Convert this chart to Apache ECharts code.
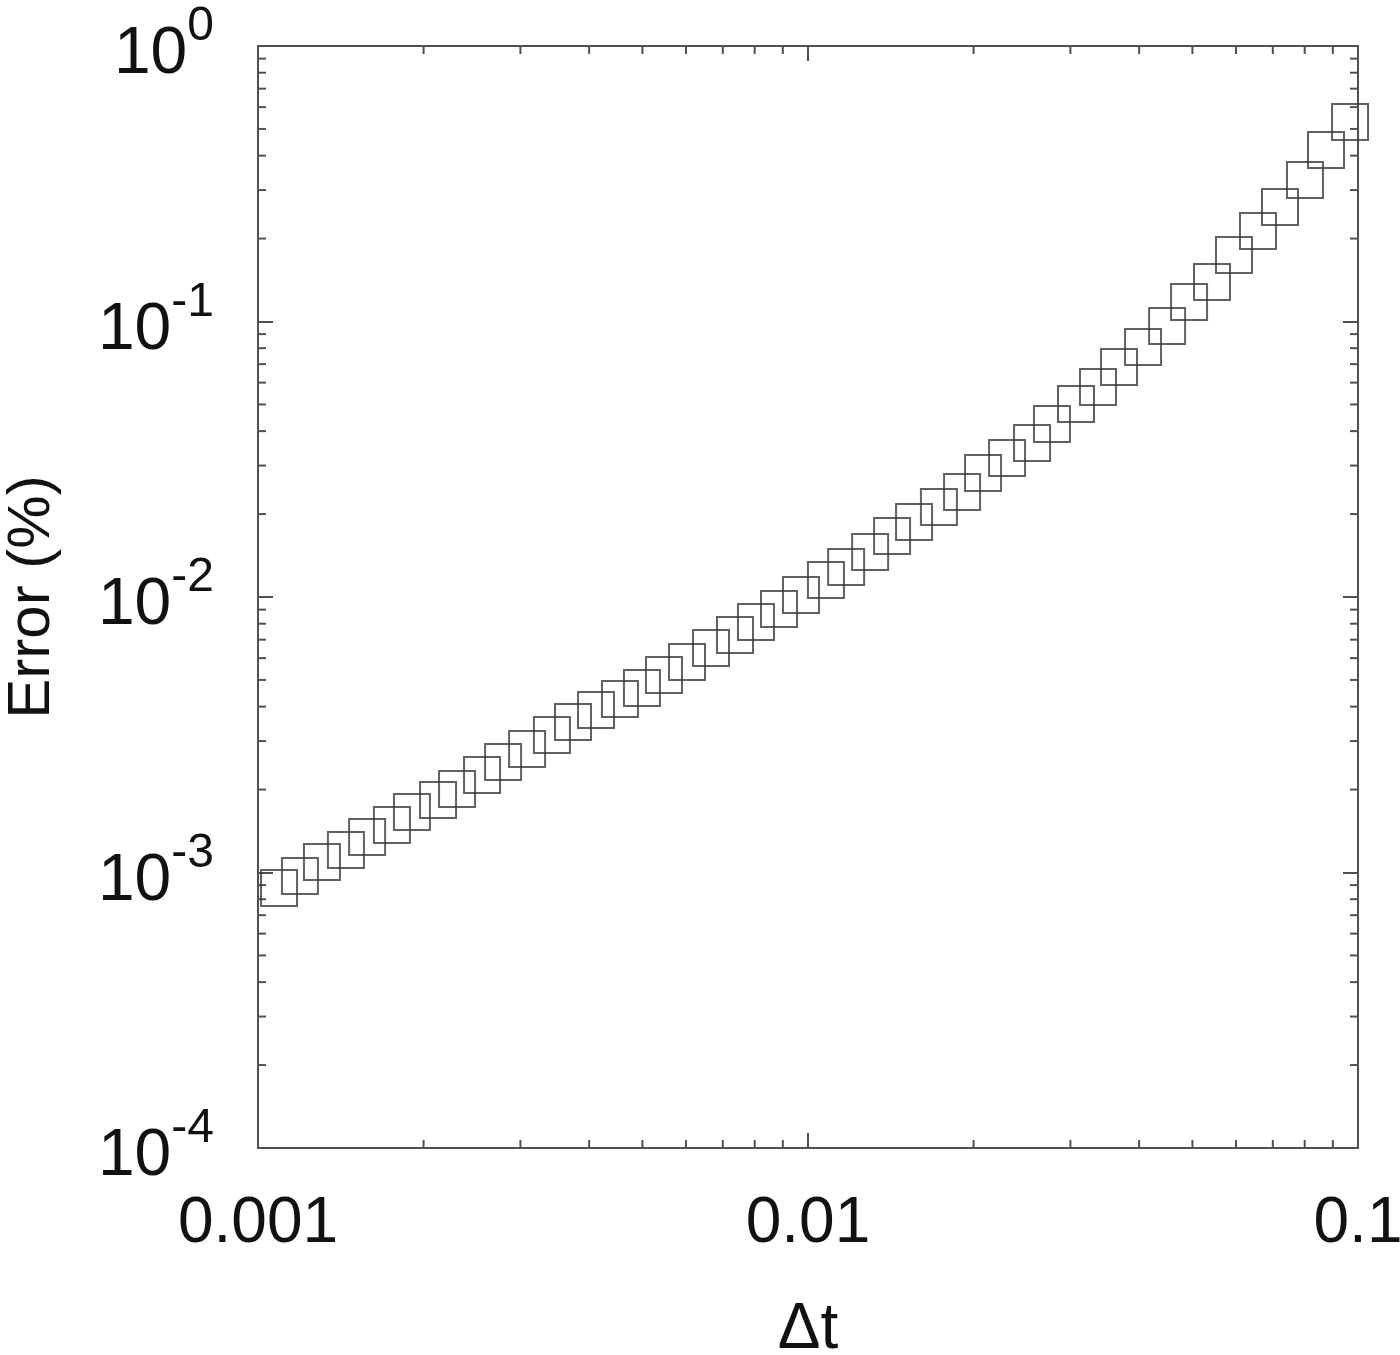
<!DOCTYPE html>
<html>
<head>
<meta charset="utf-8">
<script src="https://cdn.jsdelivr.net/npm/echarts@6/dist/echarts.min.js"></script>
<style>
  html, body { margin: 0; padding: 0; background: #fff; }
  #chart { width: 1400px; height: 1355px; }
</style>
</head>
<body>
<div id="chart"></div>
<script>
// time step values
var dtValues = [
    0.001092, 0.001192, 0.001307, 0.001445, 0.001579, 0.001752, 0.001905, 0.002125,
    0.002301, 0.002555, 0.002790, 0.003085, 0.003423, 0.003739, 0.004117, 0.004551,
    0.004990, 0.005472, 0.006026, 0.006663, 0.007366, 0.008043, 0.008857, 0.009712,
    0.01078, 0.01173, 0.01297, 0.01422, 0.01559, 0.01730, 0.01906, 0.02081,
    0.02301, 0.02555, 0.02777, 0.03071, 0.03367, 0.03677, 0.04066, 0.04497,
    0.04930, 0.05427, 0.05950, 0.06579, 0.07214, 0.08009, 0.08746, 0.09672
];
// error (%) for each time step
var errValues = [
    0.000878, 0.000971, 0.001092, 0.001207, 0.001346, 0.001488, 0.001658, 0.001833,
    0.002009, 0.002259, 0.002518, 0.002808, 0.003156, 0.003518, 0.003889, 0.004264,
    0.004673, 0.005210, 0.005808, 0.006531, 0.007279, 0.008114, 0.009046, 0.01017,
    0.01153, 0.01285, 0.01457, 0.01664, 0.01872, 0.02121, 0.02405, 0.02818,
    0.03195, 0.03622, 0.04246, 0.05018, 0.05783, 0.06836, 0.08080, 0.09631,
    0.1177, 0.1391, 0.1743, 0.2131, 0.2604, 0.3264, 0.4194, 0.5299
];
var xTickLabels = ['0.001', '0.01', '0.1'];
var yTickExps = ['-4', '-3', '-2', '-1', '0'];

var xMin = 0.001, xMax = 0.1;
var yMin = 0.0001, yMax = 1;

var points = [];
for (var i = 0; i < dtValues.length; i++) {
    points.push([dtValues[i], errValues[i]]);
}

// minor ticks at 2..9 of every decade
var minorTicks = [];
for (var d = xMin; d < xMax * 0.99; d *= 10) {
    for (var m = 2; m <= 9; m++) minorTicks.push([d * m, yMin, 0]);
}
for (var e = yMin; e < yMax * 0.99; e *= 10) {
    for (var n = 2; n <= 9; n++) minorTicks.push([xMin, e * n, 1]);
}

var frameColor = '#505050';
var textColor = '#111';
var fontName = '"Liberation Sans", Arial, sans-serif';

function renderMinorTick(params, api) {
    var cs = params.coordSys;
    var p = api.coord([api.value(0), api.value(1)]);
    var len = 8;
    var st = { stroke: frameColor, lineWidth: 2 };
    if (api.value(2) === 0) {
        return {
            type: 'group',
            children: [
                { type: 'line', shape: { x1: p[0], y1: cs.y + cs.height, x2: p[0], y2: cs.y + cs.height - len }, style: st },
                { type: 'line', shape: { x1: p[0], y1: cs.y, x2: p[0], y2: cs.y + len }, style: st }
            ]
        };
    }
    return {
        type: 'group',
        children: [
            { type: 'line', shape: { x1: cs.x, y1: p[1], x2: cs.x + len, y2: p[1] }, style: st },
            { type: 'line', shape: { x1: cs.x + cs.width, y1: p[1], x2: cs.x + cs.width - len, y2: p[1] }, style: st }
        ]
    };
}

var myChart = echarts.init(document.getElementById('chart'));

var frameLine = { show: true, lineStyle: { color: frameColor, width: 2 } };
var majorTick = { show: true, inside: true, length: 15, lineStyle: { color: frameColor, width: 2 } };

option = {
    backgroundColor: '#fff',
    animation: false,
    grid: {
        left: 258,
        top: 46,
        width: 1100,
        height: 1102,
        containLabel: false,
        outerBoundsMode: 'none'
    },
    xAxis: [{
        type: 'log',
        logBase: 10,
        min: xMin,
        max: xMax,
        position: 'bottom',
        name: 'Δt',
        nameLocation: 'middle',
        nameGap: 150,
        nameTextStyle: { fontSize: 64, color: textColor, fontFamily: fontName },
        axisLine: frameLine,
        axisTick: majorTick,
        splitLine: { show: false },
        axisLabel: {
            margin: 44,
            fontSize: 64,
            color: textColor,
            fontFamily: fontName,
            hideOverlap: false,
            formatter: function (v) {
                var k = Math.round(Math.log10(v / xMin));
                return xTickLabels[k];
            }
        }
    }, {
        type: 'log',
        logBase: 10,
        min: xMin,
        max: xMax,
        position: 'top',
        axisLine: frameLine,
        axisTick: majorTick,
        axisLabel: { show: false },
        splitLine: { show: false }
    }],
    yAxis: [{
        type: 'log',
        logBase: 10,
        min: yMin,
        max: yMax,
        position: 'left',
        name: 'Error (%)',
        nameLocation: 'middle',
        nameGap: 196,
        nameTextStyle: { fontSize: 60, color: textColor, fontFamily: fontName },
        axisLine: frameLine,
        axisTick: majorTick,
        splitLine: { show: false },
        axisLabel: {
            margin: 44,
            color: textColor,
            fontFamily: fontName,
            padding: [18, 0, 0, 0],
            formatter: function (v) {
                var k = Math.round(Math.log10(v / yMin));
                return '{b|10}{s|' + yTickExps[k] + '}';
            },
            rich: {
                b: { fontSize: 66, lineHeight: 104, color: textColor, fontFamily: fontName },
                s: { fontSize: 48, lineHeight: 48, verticalAlign: 'top', color: textColor, fontFamily: fontName }
            }
        }
    }, {
        type: 'log',
        logBase: 10,
        min: yMin,
        max: yMax,
        position: 'right',
        axisLine: frameLine,
        axisTick: majorTick,
        axisLabel: { show: false },
        splitLine: { show: false }
    }],
    series: [{
        name: 'minor ticks',
        type: 'custom',
        xAxisIndex: 0,
        yAxisIndex: 0,
        silent: true,
        clip: false,
        encode: { x: 0, y: 1 },
        renderItem: renderMinorTick,
        data: minorTicks
    }, {
        name: 'error',
        type: 'scatter',
        xAxisIndex: 0,
        yAxisIndex: 0,
        symbol: 'rect',
        symbolSize: 36,
        itemStyle: {
            color: 'rgba(0,0,0,0)',
            borderColor: '#3a3a3a',
            borderWidth: 2
        },
        data: points
    }]
};
myChart.setOption(option);
</script>
</body>
</html>
